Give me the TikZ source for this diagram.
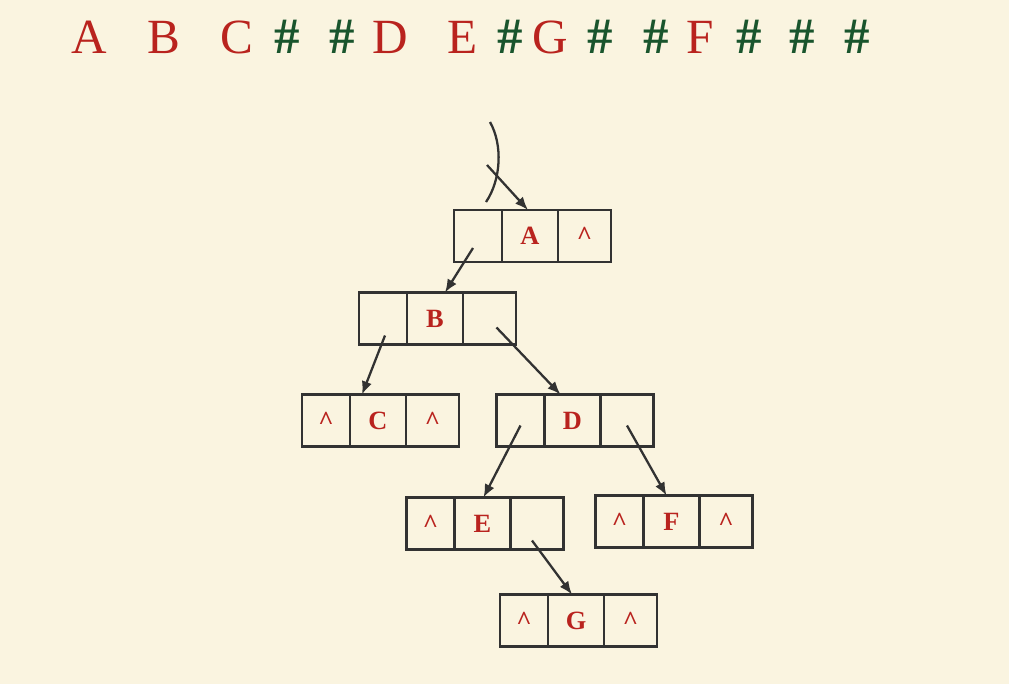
\documentclass[tikz,border=0pt]{standalone}
\usepackage{fontspec}
\setmainfont{Liberation Serif}
\usetikzlibrary{arrows.meta,positioning}

\definecolor{paper}{RGB}{250,244,224}
\definecolor{keyred}{RGB}{185,35,30}
\definecolor{hashgreen}{RGB}{25,85,45}
\definecolor{ink}{RGB}{50,50,50}

\newcommand{\nilmark}{\textasciicircum}

\tikzset{
  cell/.style={draw=ink,line width=1.6pt,minimum height=1.04cm,inner sep=0pt,outer sep=0pt,
    text height=10pt,text depth=0pt,text=keyred,font=\fontsize{15}{15}\selectfont\bfseries},
  lp/.style={cell,minimum width=0.96cm},
  dat/.style={cell,minimum width=1.12cm},
  rp/.style={cell,minimum width=1.06cm},
  ptr/.style={draw=ink,line width=1.3pt,-{Latex[length=7.5pt,width=6pt]}},
  seq/.style={anchor=base,inner sep=0pt,font=\fontsize{28}{28}\selectfont},
  key/.style={seq,text=keyred},
  hash/.style={seq,text=hashgreen,font=\fontsize{29}{29}\selectfont\bfseries},
}

\begin{document}
\begin{tikzpicture}[x=0.02cm,y=-0.02cm]

\fill[paper] (0,0) rectangle (1009,684);
\useasboundingbox (0,0) rectangle (1009,684);

% preorder sequence with # for empty subtrees
\node[key]  (t1)  at (89,53)  {A};
\node[key]  (t2)  at (164,53) {B};
\node[key]  (t3)  at (237,53) {C};
\node[hash] (t4)  at (287,53) {\#};
\node[hash] (t5)  at (342,53) {\#};
\node[key]  (t6)  at (390,53) {D};
\node[key]  (t7)  at (463,53) {E};
\node[hash] (t8)  at (510,53) {\#};
\node[key]  (t9)  at (550,53) {G};
\node[hash] (t10) at (600,53) {\#};
\node[hash] (t11) at (656,53) {\#};
\node[key]  (t12) at (700,53) {F};
\node[hash] (t13) at (749,53) {\#};
\node[hash] (t14) at (802,53) {\#};
\node[hash] (t15) at (857,53) {\#};

% binary linked list nodes
\node[dat] (a2) at (530,236) {A};
\node[lp,left=0pt of a2] (a1) {};
\node[rp,right=0pt of a2] (a3) {\nilmark};

\node[dat] (b2) at (435,318.5) {B};
\node[lp,left=0pt of b2] (b1) {};
\node[rp,right=0pt of b2] (b3) {};

\node[dat] (c2) at (378,420.5) {C};
\node[lp,left=0pt of c2] (c1) {\nilmark};
\node[rp,right=0pt of c2] (c3) {\nilmark};

\node[dat] (d2) at (572.5,420.5) {D};
\node[lp,left=0pt of d2] (d1) {};
\node[rp,right=0pt of d2] (d3) {};

\node[dat] (e2) at (482.5,523.5) {E};
\node[lp,left=0pt of e2] (e1) {\nilmark};
\node[rp,right=0pt of e2] (e3) {};

\node[dat] (f2) at (671.5,521.5) {F};
\node[lp,left=0pt of f2] (f1) {\nilmark};
\node[rp,right=0pt of f2] (f3) {\nilmark};

\node[dat] (g2) at (576,620.5) {G};
\node[lp,left=0pt of g2] (g1) {\nilmark};
\node[rp,right=0pt of g2] (g3) {\nilmark};

% root pointer, cut off
\coordinate (root) at (487,165);
\draw[ink,line width=1.3pt] (490,122) .. controls (503,145) and (501,180) .. (486,202);
\draw[ptr] (root) -- ([shift={(-2,0)}]a2.north);

\draw[ptr] ([shift={(-5,12)}]a1.center) -- ([shift={(10,0)}]b2.north);
\draw[ptr] ([shift={(2,17)}]b1.center) -- ([shift={(-16,0)}]c2.north);
\draw[ptr] ([shift={(7,9)}]b3.center) -- ([shift={(-12,0)}]d2.north);
\draw[ptr] ([shift={(0,5)}]d1.center) -- ([shift={(1,0)}]e2.north);
\draw[ptr] ([shift={(0,5)}]d3.center) -- ([shift={(-5,0)}]f2.north);
\draw[ptr] ([shift={(-5,17)}]e3.center) -- ([shift={(-4,0)}]g2.north);

\end{tikzpicture}
\end{document}
